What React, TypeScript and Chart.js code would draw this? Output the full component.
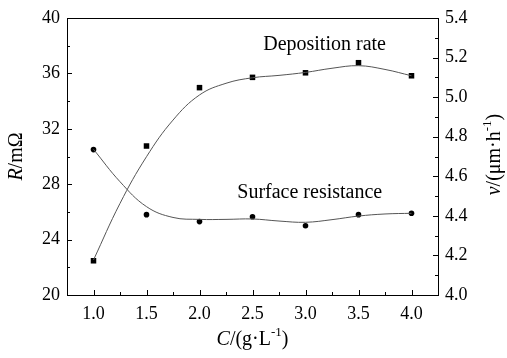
import { useEffect, useRef } from 'react';
import { Chart, registerables } from 'chart.js';

Chart.register(...registerables);

// ---- data ----
const concentration = [1.0, 1.5, 2.0, 2.5, 3.0, 3.5, 4.0];
const resistance = [30.5, 25.8, 25.3, 25.65, 25.0, 25.8, 25.9];
const depositionRate = [4.173, 4.753, 5.048, 5.1, 5.123, 5.174, 5.108];

// smoothed fit curves at 0.25 steps
const fitConcentration = [1.0, 1.25, 1.5, 1.75, 2.0, 2.25, 2.5, 2.75, 3.0, 3.25, 3.5, 3.75, 4.0];
const resistanceFit = [30.52, 28.18, 26.38, 25.6, 25.46, 25.46, 25.49, 25.34, 25.25, 25.44, 25.7, 25.85, 25.9];
const depositionFit = [4.177, 4.463, 4.699, 4.884, 5.011, 5.07, 5.098, 5.11, 5.125, 5.146, 5.159, 5.14, 5.108];

const xTicks = [1.0, 1.5, 2.0, 2.5, 3.0, 3.5, 4.0];
const leftTicks = [20, 24, 28, 32, 36, 40];
const rightTicks = [4.0, 4.2, 4.4, 4.6, 4.8, 5.0, 5.2, 5.4];

const seriesLabels = ['Surface resistance', 'Deposition rate'];

const FONT = '"Liberation Serif", "Times New Roman", serif';
const TICK_SIZE = 18;
const TEXT_SIZE = 20;

type Part = { text: string; italic?: boolean; sup?: boolean };

function partFont(p: Part) {
  const size = p.sup ? 13 : TEXT_SIZE;
  return `${p.italic ? 'italic ' : ''}${size}px ${FONT}`;
}

function drawRich(ctx: CanvasRenderingContext2D, parts: Part[], x: number, y: number) {
  let total = 0;
  for (const p of parts) {
    ctx.font = partFont(p);
    total += ctx.measureText(p.text).width;
  }
  let cx = x - total / 2;
  ctx.textAlign = 'left';
  ctx.textBaseline = 'middle';
  for (const p of parts) {
    ctx.font = partFont(p);
    ctx.fillText(p.text, cx, p.sup ? y - 7 : y);
    cx += ctx.measureText(p.text).width;
  }
}

function midpoints(arr: number[]) {
  const out: number[] = [];
  for (let i = 0; i < arr.length - 1; i++) out.push((arr[i] + arr[i + 1]) / 2);
  return out;
}

const decorPlugin = {
  id: 'decor',
  afterDraw(chart: any) {
    const ctx: CanvasRenderingContext2D = chart.ctx;
    const { left, right, top, bottom } = chart.chartArea;
    const xs = chart.scales.x;
    const yl = chart.scales.y;
    const yr = chart.scales.y1;
    ctx.save();
    ctx.strokeStyle = '#000';
    ctx.fillStyle = '#000';
    ctx.lineWidth = 1;
    ctx.strokeRect(Math.round(left) + 0.5, Math.round(top) + 0.5, Math.round(right - left), Math.round(bottom - top));
    const major = 5;
    const minor = 3;
    ctx.beginPath();
    for (const v of xTicks) {
      const px = Math.round(xs.getPixelForValue(v)) + 0.5;
      ctx.moveTo(px, bottom);
      ctx.lineTo(px, bottom - major);
    }
    for (const v of midpoints(xTicks)) {
      const px = Math.round(xs.getPixelForValue(v)) + 0.5;
      ctx.moveTo(px, bottom);
      ctx.lineTo(px, bottom - minor);
    }
    for (const v of leftTicks) {
      const py = Math.round(yl.getPixelForValue(v)) + 0.5;
      ctx.moveTo(left, py);
      ctx.lineTo(left + major, py);
    }
    for (const v of midpoints(leftTicks)) {
      const py = Math.round(yl.getPixelForValue(v)) + 0.5;
      ctx.moveTo(left, py);
      ctx.lineTo(left + minor, py);
    }
    for (const v of rightTicks) {
      const py = Math.round(yr.getPixelForValue(v)) + 0.5;
      ctx.moveTo(right, py);
      ctx.lineTo(right - major, py);
    }
    for (const v of midpoints(rightTicks)) {
      const py = Math.round(yr.getPixelForValue(v)) + 0.5;
      ctx.moveTo(right, py);
      ctx.lineTo(right - minor, py);
    }
    ctx.stroke();

    const cx = (left + right) / 2;
    const cy = (top + bottom) / 2;
    drawRich(ctx, [{ text: 'C', italic: true }, { text: '/(g·L' }, { text: '-1', sup: true }, { text: ')' }], cx, 340);

    ctx.save();
    ctx.translate(17, cy);
    ctx.rotate(-Math.PI / 2);
    drawRich(ctx, [{ text: 'R', italic: true }, { text: '/mΩ' }], 0, 0);
    ctx.restore();

    ctx.save();
    ctx.translate(495, cy - 2);
    ctx.rotate(-Math.PI / 2);
    drawRich(ctx, [{ text: 'v', italic: true }, { text: '/(μm·h' }, { text: '-1', sup: true }, { text: ')' }], 0, 0);
    ctx.restore();

    drawRich(ctx, [{ text: seriesLabels[1] }], xs.getPixelForValue(3.18), yl.getPixelForValue(38.05));
    drawRich(ctx, [{ text: seriesLabels[0] }], xs.getPixelForValue(3.04), yl.getPixelForValue(27.36));
    ctx.restore();
  },
};

export default function App() {
  const ref = useRef<HTMLCanvasElement>(null);
  useEffect(() => {
    document.body.style.margin = '0';
    const canvas = ref.current!;
    const tickFont = { family: FONT, size: TICK_SIZE };
    const chart = new Chart(canvas, {
      type: 'scatter',
      data: {
        datasets: [
          {
            label: seriesLabels[0] + ' fit',
            data: fitConcentration.map((x, i) => ({ x, y: resistanceFit[i] })),
            yAxisID: 'y',
            showLine: true,
            borderColor: '#555',
            borderWidth: 1,
            pointRadius: 0,
            tension: 0.4,
          },
          {
            label: seriesLabels[1] + ' fit',
            data: fitConcentration.map((x, i) => ({ x, y: depositionFit[i] })),
            yAxisID: 'y1',
            showLine: true,
            borderColor: '#555',
            borderWidth: 1,
            pointRadius: 0,
            tension: 0.4,
          },
          {
            label: seriesLabels[0],
            data: concentration.map((x, i) => ({ x, y: resistance[i] })),
            yAxisID: 'y',
            pointStyle: 'circle',
            pointRadius: 2.8,
            backgroundColor: '#000',
            borderColor: '#000',
            borderWidth: 0,
          },
          {
            label: seriesLabels[1],
            data: concentration.map((x, i) => ({ x, y: depositionRate[i] })),
            yAxisID: 'y1',
            pointStyle: 'rect',
            pointRadius: 3.9,
            backgroundColor: '#000',
            borderColor: '#000',
            borderWidth: 0,
          },
        ],
      },
      options: {
        animation: false,
        responsive: false,
        devicePixelRatio: 1,
        layout: { padding: { top: 18, left: 0, right: 0, bottom: 0 } },
        plugins: { legend: { display: false }, tooltip: { enabled: false } },
        scales: {
          x: {
            type: 'linear',
            min: 0.75,
            max: 4.25,
            afterBuildTicks: (s: any) => {
              s.ticks = xTicks.map((v) => ({ value: v }));
            },
            afterFit: (s: any) => {
              s.height = 63;
            },
            grid: { display: false, drawTicks: false },
            border: { display: false },
            ticks: {
              font: tickFont,
              color: '#000',
              padding: 8,
              maxRotation: 0,
              callback: (v: any) => Number(v).toFixed(1),
            },
          },
          y: {
            type: 'linear',
            position: 'left',
            min: 20,
            max: 40,
            afterBuildTicks: (s: any) => {
              s.ticks = leftTicks.map((v) => ({ value: v }));
            },
            afterFit: (s: any) => {
              s.width = 67;
            },
            grid: { display: false, drawTicks: false },
            border: { display: false },
            ticks: { font: tickFont, color: '#000', padding: 7, callback: (v: any) => String(v) },
          },
          y1: {
            type: 'linear',
            position: 'right',
            min: 4.0,
            max: 5.4,
            afterBuildTicks: (s: any) => {
              s.ticks = rightTicks.map((v) => ({ value: v }));
            },
            afterFit: (s: any) => {
              s.width = 69;
            },
            grid: { display: false, drawTicks: false },
            border: { display: false },
            ticks: { font: tickFont, color: '#000', padding: 7, callback: (v: any) => Number(v).toFixed(1) },
          },
        },
      },
      plugins: [decorPlugin],
    } as any);
    return () => chart.destroy();
  }, []);
  return (
    <div style={{ width: 507, height: 358, background: '#fff' }}>
      <canvas ref={ref} width={507} height={358} style={{ display: 'block' }} />
    </div>
  );
}
